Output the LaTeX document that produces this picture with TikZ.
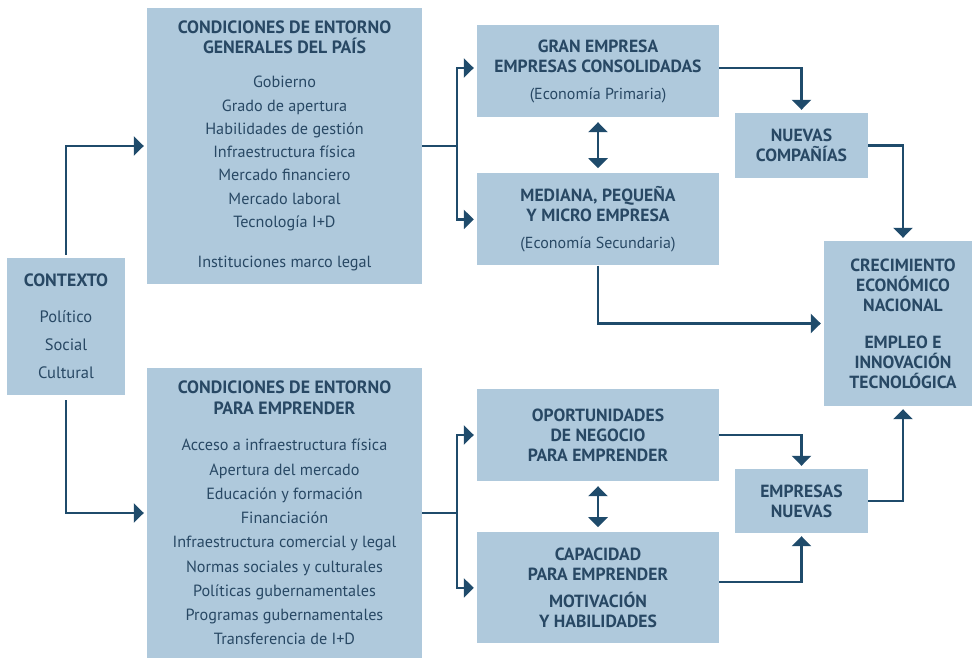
\documentclass[tikz,border=0pt]{standalone}
\usepackage{fontspec}
\setmainfont{PT Sans}
\usetikzlibrary{positioning}
\usetikzlibrary{arrows.meta}
\definecolor{boxblue}{RGB}{175,201,220}
\definecolor{inkblue}{RGB}{40,72,100}
\definecolor{lineblue}{RGB}{31,75,107}
\newcommand{\headtxt}[1]{{\bfseries\fontsize{17.8}{20}\selectfont #1}}
\newcommand{\bodytxt}[1]{{\mdseries\fontsize{16}{20}\selectfont #1}}

\begin{document}
\begin{tikzpicture}[x=1pt, y=-1pt,
    panel/.style={rectangle, fill=boxblue, text=inkblue, align=center, inner sep=0pt},
    bigbox/.style={panel, minimum width=275pt},
    firmbox/.style={panel, minimum width=242pt, minimum height=92pt, font=\bfseries\fontsize{17.6}{20}\selectfont},
    newbox/.style={panel, minimum width=133pt, minimum height=65pt, font=\bfseries\fontsize{17.6}{20}\selectfont},
    link/.style={-{Triangle[width=19pt,length=10pt]}, line width=2.4pt, draw=lineblue, shorten >=3pt},
    duallink/.style={{Triangle[width=19pt,length=10pt]}-{Triangle[width=19pt,length=10pt]}, line width=2.4pt, draw=lineblue, shorten >=5pt, shorten <=5pt}
]
\useasboundingbox (0,0) rectangle (972,659);

% Context and conditions
\node[panel, minimum width=118pt, minimum height=137pt, font=\fontsize{16.5}{28}\selectfont] (contexto) at (66,326.5)
  {\headtxt{CONTEXTO}\\[8pt] Político\\ Social\\ Cultural};
\node[bigbox, minimum height=276pt, font=\fontsize{16.2}{23.3}\selectfont] (generales) at (284.5,146)
  {\headtxt{CONDICIONES DE ENTORNO}\\[-3.3pt] \headtxt{GENERALES DEL PAÍS}\\[10.7pt]
   Gobierno\\ Grado de apertura\\ Habilidades de gestión\\ Infraestructura física\\
   Mercado financiero\\ Mercado laboral\\ Tecnología I+D\\[16.7pt] Instituciones marco legal};
\node[bigbox, minimum height=290pt, font=\fontsize{16.2}{24.25}\selectfont] (emprender) at (284.5,513)
  {\headtxt{CONDICIONES DE ENTORNO}\\[-3.25pt] \headtxt{PARA EMPRENDER}\\[11.75pt]
   Acceso a infraestructura física\\ Apertura del mercado\\ Educación y formación\\ Financiación\\
   Infraestructura comercial y legal\\ Normas sociales y culturales\\ Políticas gubernamentales\\
   Programas gubernamentales\\ Transferencia de I+D};

% Firms
\node[firmbox] (gran) at (598,71) {GRAN EMPRESA\\ EMPRESAS CONSOLIDADAS\\[7pt] \bodytxt{(Economía Primaria)}};
\node[firmbox, below=56pt of gran] (mediana) {MEDIANA, PEQUEÑA\\ Y MICRO EMPRESA\\[7pt] \bodytxt{(Economía Secundaria)}};
\node[firmbox] (oportunidades) at (598,435) {OPORTUNIDADES\\ DE NEGOCIO\\ PARA EMPRENDER};
\node[firmbox, minimum height=111pt, below=51pt of oportunidades] (capacidad)
  {CAPACIDAD\\ PARA EMPRENDER\\[7pt] MOTIVACIÓN\\ Y HABILIDADES};

% New firms and outcome
\node[newbox] (nuevas) at (801.5,145.5) {NUEVAS\\ COMPAÑÍAS};
\node[newbox, minimum height=64pt] (empresas) at (801.5,501) {EMPRESAS\\ NUEVAS};
\node[panel, minimum width=158pt, minimum height=165pt, font=\bfseries\fontsize{17.6}{20}\selectfont] (crecimiento) at (903,323.5)
  {CRECIMIENTO\\ ECONÓMICO\\ NACIONAL\\[17pt] EMPLEO E\\ INNOVACIÓN\\ TECNOLÓGICA};

% Connectors
\draw[link, shorten <=3pt] (contexto.north) |- (generales.west);
\draw[link, shorten <=5pt] (contexto.south) |- (emprender.west);
\draw[link] (generales.east) -- ++(35,0) |- ([yshift=3pt]gran.west);
\draw[link] (generales.east) -- ++(35,0) |- (mediana.west);
\draw[link] (emprender.east) -- ++(35,0) |- (oportunidades.west);
\draw[link] (emprender.east) -- ++(35,0) |- (capacidad.west);
\draw[duallink] (gran.south) -- (mediana.north);
\draw[duallink] (oportunidades.south) -- (capacidad.north);
\draw[link] ([yshift=3pt]gran.east) -| (nuevas.north);
\draw[link] (nuevas.east) -| (crecimiento.north);
\draw[link] (mediana.south) |- (crecimiento.west);
\draw[link] (oportunidades.east) -| (empresas.north);
\draw[link] ([yshift=6pt]capacidad.east) -| (empresas.south);
\draw[link] (empresas.east) -| (crecimiento.south);
\end{tikzpicture}
\end{document}
